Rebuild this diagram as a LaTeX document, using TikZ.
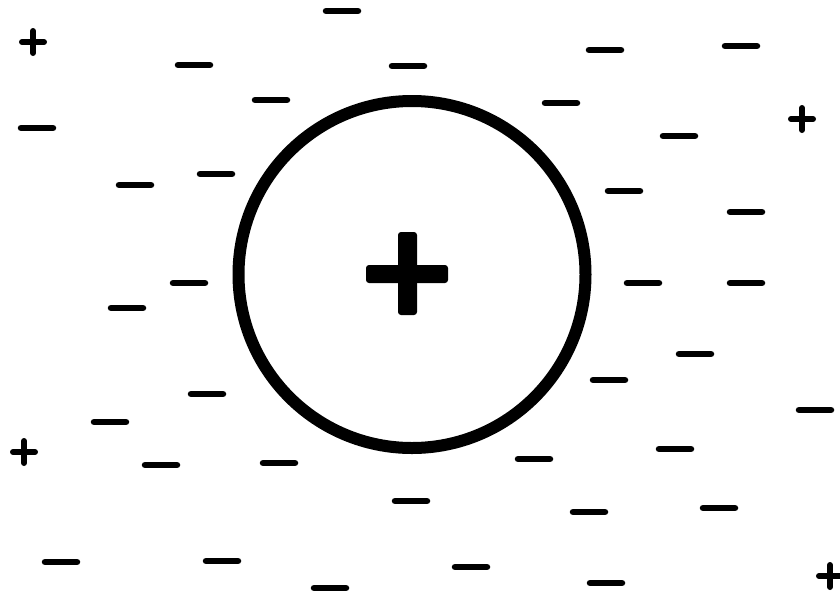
\documentclass[tikz,border=0pt]{standalone}
\usepackage{tikz}

\tikzset{
  minussign/.style={line width=6.5pt, line cap=round},
  plussign/.style={line width=6pt, line cap=round},
}

\begin{document}
\begin{tikzpicture}[x=1pt, y=-1pt]
  \useasboundingbox (0,0) rectangle (840,595);

  % central positive ion
  \draw[line width=12pt] (412,274.5) circle (173.5);
  \fill[rounded corners=3pt] (366,265) rectangle (448,283);
  \fill[rounded corners=3pt] (398,232) rectangle (417,315);

  % surrounding negative charges
  \foreach \x/\y in {342/11, 194/65, 408/66, 605/50, 741/46, 271/100, 561/103,
                     37/128, 679/136, 135/185, 216/174, 624/191, 746/212,
                     189/283, 127/308, 643/283, 746/283, 695/354, 609/380,
                     207/394, 110/422, 815/410, 161/465, 279/463, 534/459,
                     675/449, 411/501, 589/512, 719/508, 61/562, 222/561,
                     471/567, 330/588, 606/583}
    \draw[minussign] (\x-16,\y) -- (\x+16,\y);

  % a few positive charges
  \foreach \x/\y in {33/42, 802/119, 24/452, 830/576}
    \draw[plussign] (\x-11,\y) -- (\x+11,\y) (\x,\y-11) -- (\x,\y+11);
\end{tikzpicture}
\end{document}
